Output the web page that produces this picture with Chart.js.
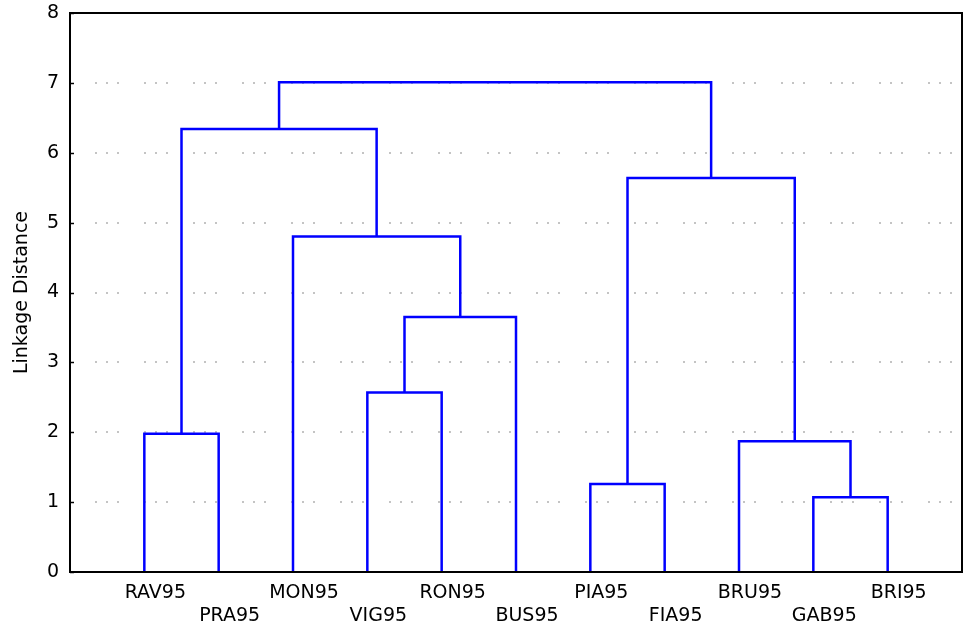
<!DOCTYPE html>
<html>
<head>
<meta charset="utf-8">
<script src="https://cdn.jsdelivr.net/npm/chart.js@4"></script>
<style>
  body { margin: 0; background: #fff; }
  #wrap { width: 967px; height: 629px; position: relative; }
</style>
</head>
<body>
<div id="wrap"><canvas id="dendro"></canvas></div>
<script>
// leaves in plotted order
const leaves = ["RAV95", "PRA95", "MON95", "VIG95", "RON95", "BUS95", "PIA95", "FIA95", "BRU95", "GAB95", "BRI95"];

// merges (linkage style): node ids 0..10 are leaves, 11.. are clusters in merge order
const mergeA = [9, 6, 8, 0, 3, 15, 2, 12, 14, 19];
const mergeB = [10, 7, 11, 1, 4, 5, 16, 13, 17, 18];
const mergeHeight = [1.07, 1.26, 1.87, 1.98, 2.57, 3.65, 4.8, 5.64, 6.34, 7.01];

const yTicks = [0, 1, 2, 3, 4, 5, 6, 7, 8];

// position and height of each node
const nodeX = leaves.map((_, i) => i + 1);
const nodeH = leaves.map(() => 0);
const links = [];
for (let k = 0; k < mergeA.length; k++) {
  const a = mergeA[k], b = mergeB[k], h = mergeHeight[k];
  links.push({
    label: "link " + (k + 1),
    data: [
      { x: nodeX[a], y: nodeH[a] },
      { x: nodeX[a], y: h },
      { x: nodeX[b], y: h },
      { x: nodeX[b], y: nodeH[b] }
    ],
    showLine: true,
    borderColor: "#0000ff",
    borderWidth: 2.5,
    pointRadius: 0,
    tension: 0,
    fill: false
  });
  nodeX.push((nodeX[a] + nodeX[b]) / 2);
  nodeH.push(h);
}

const frame = {
  id: "frame",
  afterDraw(chart) {
    const { ctx, chartArea: a, scales } = chart;
    ctx.save();
    ctx.strokeStyle = "#000";
    ctx.lineWidth = 2;
    ctx.strokeRect(a.left, a.top, a.right - a.left, a.bottom - a.top);
    ctx.lineWidth = 1.5;
    yTicks.forEach(v => {
      const y = Math.round(scales.y.getPixelForValue(v)) + 0.5;
      ctx.beginPath();
      ctx.moveTo(a.left, y);
      ctx.lineTo(a.left + 4, y);
      ctx.stroke();
    });
    ctx.restore();
  }
};

const font = { family: "DejaVu Sans", size: 19 };

new Chart(document.getElementById("dendro"), {
  type: "scatter",
  data: { datasets: links },
  options: {
    responsive: true,
    maintainAspectRatio: false,
    animation: false,
    layout: { padding: { top: 13, right: 5, left: 0, bottom: 0 } },
    plugins: {
      legend: { display: false },
      tooltip: { enabled: false }
    },
    scales: {
      x: {
        type: "linear",
        min: 0,
        max: leaves.length + 1,
        afterBuildTicks: scale => {
          scale.ticks = leaves.map((_, i) => ({ value: i + 1 }));
        },
        afterFit: scale => {
          scale.height = 57;
          scale.paddingLeft = 0;
          scale.paddingRight = 0;
        },
        grid: { display: false, drawTicks: false },
        border: { display: false },
        ticks: {
          autoSkip: false,
          maxRotation: 0,
          labelOffset: 11,
          padding: 10,
          color: "#000",
          font: { family: font.family, size: font.size, lineHeight: 1.21 },
          callback: v => {
            const i = v - 1;
            return i % 2 === 0 ? [leaves[i], ""] : ["", leaves[i]];
          }
        }
      },
      y: {
        min: 0,
        max: 8,
        afterBuildTicks: scale => {
          scale.ticks = yTicks.map(v => ({ value: v }));
        },
        afterFit: scale => {
          scale.width = 70;
          scale.paddingTop = 0;
          scale.paddingBottom = 0;
        },
        grid: {
          drawTicks: false,
          lineWidth: 2,
          color: ctx => (ctx.tick && (ctx.tick.value === 0 || ctx.tick.value === 8)) ? "rgba(0,0,0,0)" : "#c4c4c4"
        },
        border: { display: false, dash: [2, 9, 2, 9, 2, 25], dashOffset: 24 },
        ticks: {
          padding: 11,
          color: "#000",
          font: font
        },
        title: {
          display: true,
          text: "Linkage Distance",
          color: "#000",
          font: { family: font.family, size: 19 },
          padding: { top: 11, bottom: 0 }
        }
      }
    }
  },
  plugins: [frame]
});
</script>
</body>
</html>
